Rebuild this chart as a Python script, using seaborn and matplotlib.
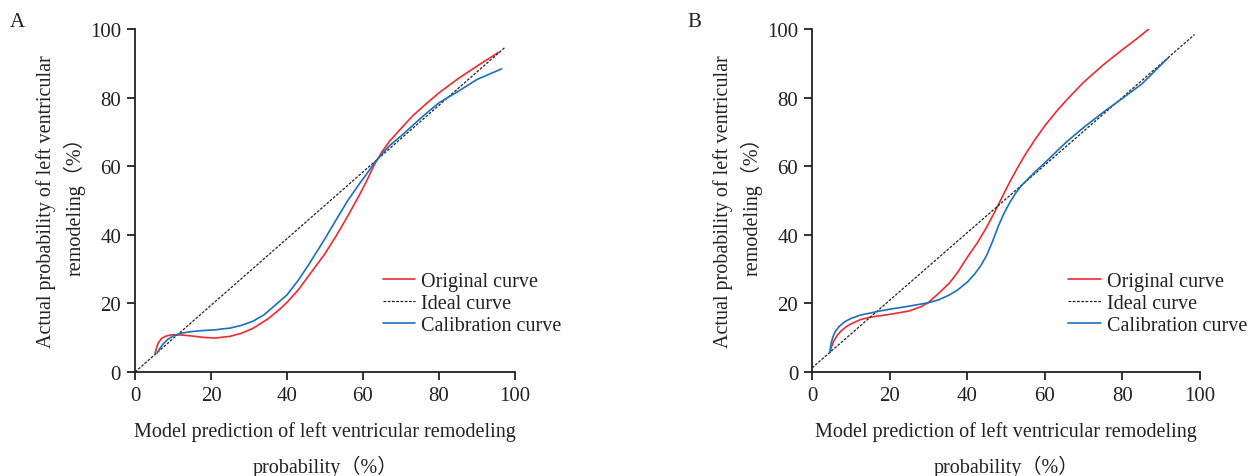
import pandas as pd
import seaborn as sns
import matplotlib.pyplot as plt

# panel A, values (%)
a_orig_x = [5.3, 5.7, 6.2, 7.0, 8.0, 9.0, 10.0, 12.0, 15.0, 18.0, 21.0, 25.0, 28.0, 31.0, 35.0, 38.0,
            40.0, 43.0, 46.0, 50.0, 53.0, 56.0, 59.0, 61.0, 63.0, 65.0, 67.0, 70.0, 73.0, 76.0, 80.0,
            85.0, 90.0, 95.7]
a_orig_y = [5.5, 7.2, 8.6, 9.8, 10.4, 10.7, 10.9, 10.8, 10.5, 10.1, 9.9, 10.4, 11.3, 12.7, 15.5, 18.2,
            20.3, 24.0, 28.5, 34.5, 39.8, 45.5, 51.5, 55.8, 60.5, 64.2, 67.3, 71.0, 74.6, 77.6, 81.4,
            85.5, 89.2, 93.2]
a_cal_x = [5.8, 6.5, 7.5, 8.5, 10.0, 12.0, 15.0, 18.0, 21.0, 25.0, 28.0, 31.0, 34.0, 37.0, 40.0,
           43.0, 46.0, 50.0, 53.0, 56.0, 59.0, 61.0, 63.0, 65.0, 67.0, 70.0, 73.0, 76.0, 80.0,
           85.0, 90.0, 96.5]
a_cal_y = [5.5, 6.8, 8.3, 9.4, 10.5, 11.3, 11.8, 12.1, 12.3, 12.8, 13.6, 14.8, 16.7, 19.6, 22.5,
           26.8, 31.8, 38.9, 44.5, 50.0, 54.8, 57.8, 61.0, 63.6, 66.0, 68.8, 71.8, 74.8, 78.5,
           81.8, 85.3, 88.4]
a_ideal_x = [0, 97.4]
a_ideal_y = [0, 94.7]

# panel B
b_orig_x = [4.6, 5.0, 5.6, 6.5, 7.5, 8.8, 10.0, 12.5, 15.0, 17.5, 20.5, 25.0, 28.0, 30.0, 32.5,
            35.3, 37.5, 40.1, 42.5, 44.8, 47.0, 49.0, 51.0, 53.0, 55.0, 57.5, 60.0, 63.0, 66.0,
            70.0, 75.0, 80.0, 83.5, 86.8]
b_orig_y = [5.7, 7.3, 9.0, 10.7, 12.0, 13.2, 14.0, 15.3, 16.0, 16.4, 16.9, 17.8, 19.0, 20.3, 22.8,
            25.8, 29.0, 33.6, 37.5, 41.8, 46.5, 51.0, 55.5, 59.6, 63.5, 67.8, 71.8, 76.0, 79.8,
            84.5, 89.5, 94.0, 97.0, 100.0]
b_cal_x = [4.6, 4.9, 5.4, 6.0, 7.0, 8.5, 10.0, 12.5, 15.0, 17.5, 20.5, 25.0, 30.0, 32.5, 35.3,
           37.5, 40.1, 42.0, 43.5, 45.0, 46.5, 48.0, 49.5, 51.0, 52.5, 54.0, 55.5, 57.5, 60.0,
           63.0, 66.0, 70.0, 75.0, 80.0, 85.0, 91.6]
b_cal_y = [5.7, 8.3, 10.3, 11.8, 13.3, 14.7, 15.6, 16.6, 17.2, 17.8, 18.4, 19.2, 20.2, 21.0, 22.4,
           23.9, 26.3, 28.7, 31.0, 34.0, 38.0, 42.5, 46.3, 49.5, 52.2, 54.4, 56.1, 58.4, 61.0,
           64.3, 67.5, 71.3, 75.7, 79.8, 84.0, 91.4]
b_ideal_x = [0, 98.6]
b_ideal_y = [1.2, 98.4]

ticks = [0, 20, 40, 60, 80, 100]
legend_names = ['Original curve', 'Ideal curve', 'Calibration curve']
red = '#ee2a2f'
blue = '#1b6fbd'
ink = '#222222'

sns.set_style('ticks')
plt.rcParams['font.family'] = ['Liberation Serif', 'Noto Sans CJK SC', 'DejaVu Sans']

fig = plt.figure(figsize=(12.57, 4.77), dpi=100)
axA = fig.add_axes([0.1074, 0.218, 0.3023, 0.719])
axB = fig.add_axes([0.646, 0.218, 0.3087, 0.719])

panels = [
    (axA, 'A', a_orig_x, a_orig_y, a_ideal_x, a_ideal_y, a_cal_x, a_cal_y, 0.008, 0.631),
    (axB, 'B', b_orig_x, b_orig_y, b_ideal_x, b_ideal_y, b_cal_x, b_cal_y, 0.547, 0.64),
]

for ax, tag, ox, oy, ix, iy, cx, cy, tag_x, leg_x in panels:
    sns.lineplot(x=ox, y=oy, ax=ax, color=red, lw=1.2, label=legend_names[0], sort=False)
    sns.lineplot(x=ix, y=iy, ax=ax, color=ink, lw=0.9, ls=(0, (2.2, 1.2)),
                 label=legend_names[1], sort=False)
    sns.lineplot(x=cx, y=cy, ax=ax, color=blue, lw=1.2, label=legend_names[2], sort=False)

    ax.set_xlim(0, 100)
    ax.set_ylim(0, 100)
    ax.set_xticks(ticks)
    ax.set_yticks(ticks)
    ax.tick_params(labelsize=15, width=1.3, length=6, color=ink, labelcolor=ink, pad=4)
    sns.despine(ax=ax)
    for s in ['left', 'bottom']:
        ax.spines[s].set_linewidth(1.3)
        ax.spines[s].set_color(ink)

    ax.set_xlabel('Model prediction of left ventricular remodeling\nprobability（%）',
                  fontsize=14.5, linespacing=1.75, labelpad=12, color=ink)
    ax.set_ylabel('Actual probability of left ventricular\nremodeling（%）',
                  fontsize=14.5, linespacing=1.45, labelpad=3, color=ink)

    leg = ax.legend(loc='lower left', bbox_to_anchor=(leg_x, 0.085), frameon=False,
                    fontsize=14.5, handlelength=1.6, handletextpad=0.3, labelspacing=0.15,
                    borderaxespad=0)
    for t in leg.get_texts():
        t.set_color(ink)

    fig.text(tag_x, 0.952, tag, fontsize=15, color=ink, va='center')

fig.savefig('out.png', dpi=100)
